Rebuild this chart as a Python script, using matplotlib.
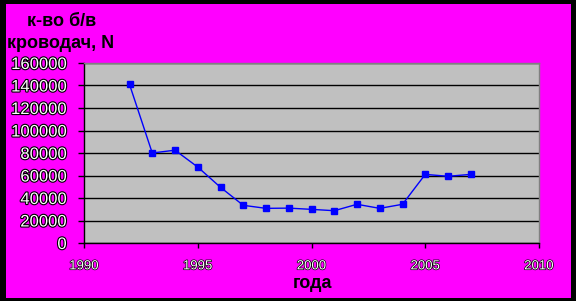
import matplotlib
matplotlib.use("Agg")
import matplotlib.pyplot as plt
import matplotlib.patheffects as pe
from matplotlib.patches import Rectangle

plt.rcParams['font.family'] = ['Liberation Sans', 'DejaVu Sans']

# data
years = [1992, 1993, 1994, 1995, 1996, 1997, 1998, 1999, 2000,
         2001, 2002, 2003, 2004, 2005, 2006, 2007]
donors = [141000, 80000, 82500, 67500, 49500, 33500, 30800, 31000, 29900,
          28700, 34400, 30800, 34400, 61000, 59300, 61000]
x_ticks = [1990, 1995, 2000, 2005, 2010]
y_ticks = [0, 20000, 40000, 60000, 80000, 100000, 120000, 140000, 160000]

W, H = 576, 301
fig = plt.figure(figsize=(W / 100, H / 100), dpi=100, facecolor='black')

# magenta chart area inside the black frame
fig.patches.append(Rectangle((6 / W, 3 / H), (571 - 6) / W, (297 - 3) / H,
                             transform=fig.transFigure, facecolor='#FF00FF',
                             edgecolor='none', zorder=-5))

ax = fig.add_axes([84 / W, (H - 243) / H, (539 - 84) / W, (243 - 63) / H])
ax.set_zorder(2)
ax.set_facecolor('#C0C0C0')

ax.plot(years, donors, color='#0000FF', linewidth=1.0, marker='s',
        markersize=5, markerfacecolor='#0000FF', markeredgecolor='#0000FF',
        zorder=3)

ax.set_xlim(1990, 2010)
ax.set_ylim(0, 160000)
ax.set_xticks(x_ticks)
ax.set_yticks(y_ticks)
ax.set_xticklabels([str(v) for v in x_ticks])
ax.set_yticklabels([str(v) for v in y_ticks])
ax.grid(axis='y', color='black', linewidth=1.0)
ax.set_axisbelow(True)

for side in ['top', 'right']:
    ax.spines[side].set_color('#808080')
    ax.spines[side].set_linewidth(1.0)
for side in ['left', 'bottom']:
    ax.spines[side].set_color('black')
    ax.spines[side].set_linewidth(1.0)

ax.tick_params(axis='y', direction='out', length=4.5, width=1, color='black', pad=8)
ax.tick_params(axis='x', direction='out', length=3.5, width=1, color='black', pad=9)

for lab in ax.get_yticklabels():
    lab.set_fontsize(12)
    lab.set_color('white')
    lab.set_path_effects([pe.withStroke(linewidth=1.6, foreground='black')])
for lab in ax.get_xticklabels():
    lab.set_fontsize(9.5)
    lab.set_color('white')
    lab.set_path_effects([pe.withStroke(linewidth=1.0, foreground='black')])

fig.text(62 / W, 1 - 22 / H, 'к-во б/в', ha='center', va='center',
         fontsize=13, fontweight='bold', color='black')
fig.text(61 / W, 1 - 44 / H, 'кроводач, N', ha='center', va='center',
         fontsize=13, fontweight='bold', color='black')
fig.text(312 / W, 1 - 283 / H, 'года', ha='center', va='center',
         fontsize=13, fontweight='bold', color='black')

fig.savefig('out.png', dpi=100, facecolor=fig.get_facecolor())
